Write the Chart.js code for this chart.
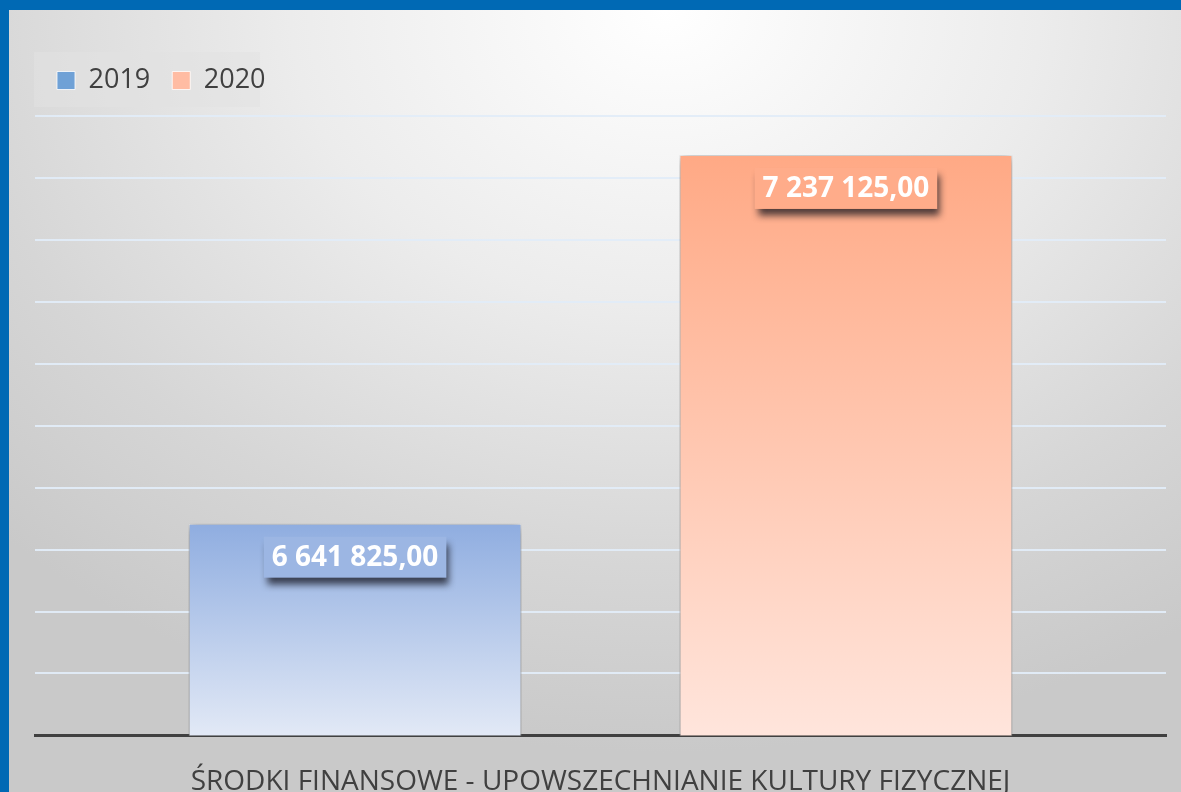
<!DOCTYPE html>
<html>
<head>
<meta charset="utf-8">
<script src="https://cdn.jsdelivr.net/npm/chart.js@4.4.1/dist/chart.umd.min.js"></script>
<style>
    html, body { margin: 0; padding: 0; }
    body { width: 1181px; height: 792px; background: #0069b4; overflow: hidden; position: relative; }
    #frame {
        position: absolute; left: 9px; top: 10px; width: 1172px; height: 782px;
        background: radial-gradient(ellipse 80% 95% at 56% 0%, #ffffff 0%, #ececec 40%, #d6d6d6 75%, #c9c9c9 100%);
    }
    canvas { display: block; }
</style>
</head>
<body>
<div id="frame"><canvas id="chart" width="1172" height="782"></canvas></div>
<script>
// data
const categories = ['ŚRODKI FINANSOWE - UPOWSZECHNIANIE KULTURY FIZYCZNEJ'];
const seriesNames = ['2019', '2020'];
const values2019 = [6641825.00];
const values2020 = [7237125.00];
const axisMin = 6300000;
const axisMax = 7300000;
const axisStep = 100000;

const FONT = '"Open Sans", "DejaVu Sans", sans-serif';

// gradient stops per series: [top, bottom]
const seriesColors = [
    ['#8fade0', '#e2e9f6'],
    ['#ffa985', '#ffe5dc']
];
const legendColors = ['#6fa1d6', '#ffbca3'];

// Format 6641825 -> "6 641 825,00"
function formatValue(v) {
    const parts = v.toFixed(2).split('.');
    const intPart = parts[0].replace(/\B(?=(\d{3})+(?!\d))/g, ' ');
    return intPart + ',' + parts[1];
}

function mixColor(a, b, t) {
    const pa = [1, 3, 5].map(k => parseInt(a.substr(k, 2), 16));
    const pb = [1, 3, 5].map(k => parseInt(b.substr(k, 2), 16));
    const c = pa.map((v, k) => Math.round(v + (pb[k] - v) * t));
    return 'rgb(' + c.join(',') + ')';
}

function barGradient(context) {
    const chart = context.chart;
    const idx = context.datasetIndex;
    const area = chart.chartArea;
    if (!area) return seriesColors[idx][0];
    const yTop = chart.scales.y.getPixelForValue(context.raw);
    const g = chart.ctx.createLinearGradient(0, yTop, 0, area.bottom);
    g.addColorStop(0, seriesColors[idx][0]);
    g.addColorStop(1, seriesColors[idx][1]);
    return g;
}

// extra space between legend and plot
const legendMargin = {
    id: 'legendMargin',
    beforeInit(chart) {
        const origFit = chart.legend.fit;
        chart.legend.fit = function () {
            origFit.bind(chart.legend)();
            this.height += 12;
        };
    }
};

// soft shadow behind bars
const barShadow = {
    id: 'barShadow',
    beforeDatasetsDraw(chart) {
        const ctx = chart.ctx;
        ctx.save();
        ctx.shadowColor = 'rgba(0,0,0,0.55)';
        ctx.shadowBlur = 10;
        ctx.shadowOffsetX = 0;
        ctx.shadowOffsetY = 2;
    },
    afterDatasetsDraw(chart) {
        chart.ctx.restore();
    }
};

// value labels in boxes near bar top
const valueLabels = {
    id: 'valueLabels',
    afterDatasetsDraw(chart) {
        const ctx = chart.ctx;
        chart.data.datasets.forEach((ds, di) => {
            const meta = chart.getDatasetMeta(di);
            meta.data.forEach((bar, i) => {
                const text = formatValue(ds.data[i]);
                ctx.save();
                ctx.font = 'bold 28px ' + FONT;
                const w = ctx.measureText(text).width + 16;
                const h = 41;
                const x = bar.x - w / 2;
                const y = bar.y + 13;
                const frac = (y + h / 2 - bar.y) / (chart.chartArea.bottom - bar.y);
                ctx.shadowColor = 'rgba(20,20,30,0.75)';
                ctx.shadowBlur = 7;
                ctx.shadowOffsetX = 3;
                ctx.shadowOffsetY = 7;
                ctx.fillStyle = mixColor(seriesColors[di][0], seriesColors[di][1], frac);
                ctx.fillRect(x, y, w, h);
                ctx.shadowColor = 'transparent';
                ctx.fillStyle = '#ffffff';
                ctx.textAlign = 'center';
                ctx.textBaseline = 'middle';
                ctx.fillText(text, bar.x, y + h / 2 + 1);
                ctx.restore();
            });
        });
    }
};

// light box behind the legend
const legendBox = {
    id: 'legendBox',
    beforeDraw(chart) {
        const ctx = chart.ctx;
        ctx.save();
        ctx.fillStyle = 'rgba(225,225,225,0.55)';
        ctx.fillRect(25, 42, 226, 55);
        ctx.restore();
    }
};

const ctx = document.getElementById('chart').getContext('2d');
new Chart(ctx, {
    type: 'bar',
    data: {
        labels: categories,
        datasets: [
            {
                label: seriesNames[0],
                data: values2019,
                backgroundColor: barGradient,
                borderColor: 'rgba(255,255,255,0.7)',
                borderWidth: 1
            },
            {
                label: seriesNames[1],
                data: values2020,
                backgroundColor: barGradient,
                borderColor: 'rgba(255,255,255,0.7)',
                borderWidth: 1
            }
        ]
    },
    options: {
        responsive: false,
        animation: false,
        layout: { padding: { left: 26, right: 15, top: 35, bottom: -29 } },
        datasets: {
            bar: { categoryPercentage: 0.868, barPercentage: 0.678 }
        },
        plugins: {
            tooltip: { enabled: false },
            legend: {
                position: 'top',
                align: 'start',
                labels: {
                    boxWidth: 18,
                    boxHeight: 18,
                    padding: 22,
                    color: '#404040',
                    font: { family: FONT, size: 27 },
                    generateLabels(chart) {
                        return seriesNames.map((name, i) => ({
                            text: name,
                            fillStyle: legendColors[i],
                            strokeStyle: 'rgba(255,255,255,0.8)',
                            lineWidth: 1,
                            fontColor: '#404040',
                            datasetIndex: i
                        }));
                    }
                }
            }
        },
        scales: {
            x: {
                grid: { display: false },
                border: { display: true, color: '#404040', width: 3 },
                ticks: {
                    color: '#404040',
                    font: { family: FONT, size: 28 },
                    padding: 22
                }
            },
            y: {
                min: axisMin,
                max: axisMax,
                ticks: { display: false, stepSize: axisStep },
                border: { display: false },
                grid: { color: 'rgba(225,236,248,0.95)', lineWidth: 2, drawTicks: false }
            }
        }
    },
    plugins: [legendMargin, legendBox, barShadow, valueLabels]
});
</script>
</body>
</html>
